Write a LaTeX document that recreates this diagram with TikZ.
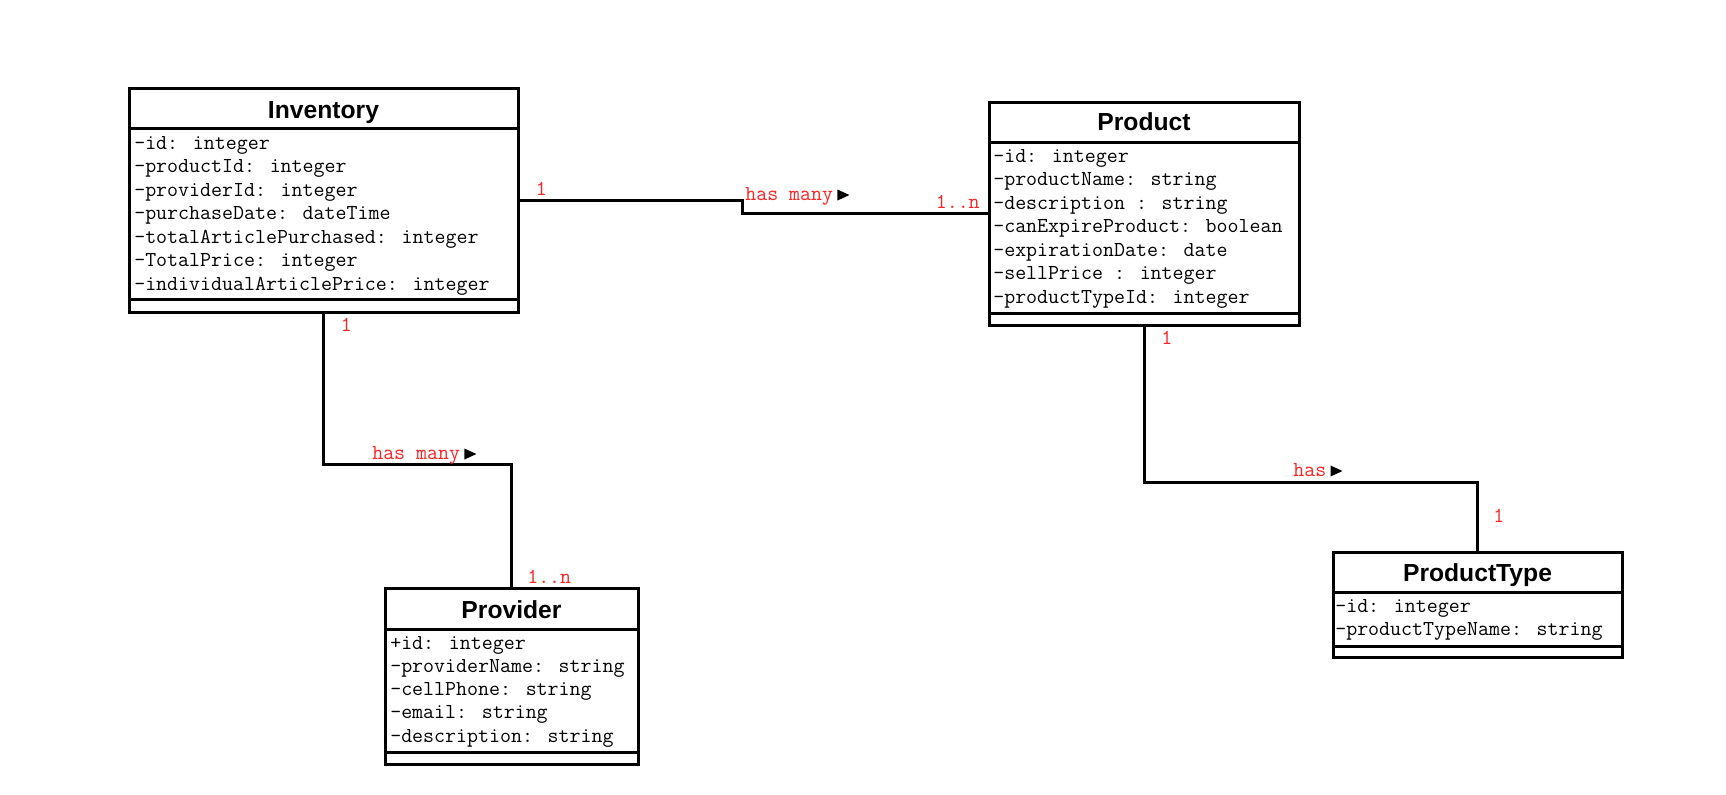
\documentclass[tikz,border=0pt]{standalone}
\usepackage{fontspec}
\setmainfont{Liberation Sans}
\usetikzlibrary{fit}
\definecolor{lblred}{RGB}{255,35,35}
\begin{document}
\begin{tikzpicture}[x=0.75pt,y=-0.75pt,
  box/.style={draw=black, line width=2.25pt, inner sep=0pt, outer sep=0pt},
  classtitle/.style={font=\fontsize{18.5}{20}\selectfont\bfseries, anchor=base, inner sep=0pt},
  attr/.style={font=\fontsize{16}{18}\selectfont\ttfamily, anchor=base west, inner sep=0pt},
  lbl/.style={font=\fontsize{16}{18}\selectfont\ttfamily, text=lblred, anchor=base west, inner sep=0pt},
  conn/.style={line width=2.25pt, line join=miter},
  divider/.style={line width=2.25pt},
  tri/.style={fill=black}]
\fill[white] (0,0) rectangle (1726,794);
\useasboundingbox (0,0) rectangle (1726,794);

% ---------- Inventory ----------
\node[box, fit={(129,88) (518,312)}] (inv) {};
\draw[divider] (inv.west |- 0,128) -- (inv.east |- 0,128);
\draw[divider] (inv.west |- 0,299) -- (inv.east |- 0,299);
\node[classtitle] (inv-t) at (inv.north |- 0,118) {Inventory};
\foreach \t [count=\i from 0] in {{-id: integer},{-productId: integer},{-providerId: integer},{-purchaseDate: dateTime},{-totalArticlePurchased: integer},{-TotalPrice: integer},{-individualArticlePrice: integer}}
  \node[attr] (inv-\i) at (134,{149+23.5*\i}) {\t};

% ---------- Product ----------
\node[box, fit={(989,102) (1299,325)}] (prod) {};
\draw[divider] (prod.west |- 0,142) -- (prod.east |- 0,142);
\draw[divider] (prod.west |- 0,313) -- (prod.east |- 0,313);
\node[classtitle] (prod-t) at (prod.north |- 0,130) {Product};
\foreach \t [count=\i from 0] in {{-id: integer},{-productName: string},{-description : string},{-canExpireProduct: boolean},{-expirationDate: date},{-sellPrice : integer},{-productTypeId: integer}}
  \node[attr] (prod-\i) at (993,{162+23.5*\i}) {\t};

% ---------- Provider ----------
\node[box, fit={(385,588) (638,764)}] (prov) {};
\draw[divider] (prov.west |- 0,629) -- (prov.east |- 0,629);
\draw[divider] (prov.west |- 0,752) -- (prov.east |- 0,752);
\node[classtitle] (prov-t) at (prov.north |- 0,618) {Provider};
\foreach \t [count=\i from 0] in {{+id: integer},{-providerName: string},{-cellPhone: string},{-email: string},{-description: string}}
  \node[attr] (prov-\i) at (390,{649+23.3*\i}) {\t};

% ---------- ProductType ----------
\node[box, fit={(1333,552) (1622,657)}] (ptype) {};
\draw[divider] (ptype.west |- 0,592) -- (ptype.east |- 0,592);
\draw[divider] (ptype.west |- 0,646) -- (ptype.east |- 0,646);
\node[classtitle] (ptype-t) at (ptype.north |- 0,581) {ProductType};
\foreach \t [count=\i from 0] in {{-id: integer},{-productTypeName: string}}
  \node[attr] (ptype-\i) at (1335,{612+23*\i}) {\t};

% ---------- Connectors ----------
\draw[conn] (inv.east) -- ++(224,0) |- (prod.west);
\draw[conn] (inv.south) -- ++(0,152) -| (prov.north);
\draw[conn] (prod.south) -- ++(0,157) -| (ptype.north);

% ---------- Labels ----------
\node[lbl] (m1) at (535.5,195) {1};
\node[lbl] (has1) at (745,200) {has many};
\node[lbl] (m2) at (935.5,208) {1..n};
\fill[tri] (has1.base east) ++(4,-10.5) -- ++(12,5.5) -- ++(-12,5.5) -- cycle;

\node[lbl] (m3) at (340.5,331) {1};
\node[lbl] (has2) at (372,459) {has many};
\node[lbl] (m4) at (527,583) {1..n};
\fill[tri] (has2.base east) ++(4,-10.5) -- ++(12,5.5) -- ++(-12,5.5) -- cycle;

\node[lbl] (m5) at (1161,344) {1};
\node[lbl] (has3) at (1293,476) {has};
\node[lbl] (m6) at (1493,522) {1};
\fill[tri] (has3.base east) ++(4,-10.5) -- ++(12,5.5) -- ++(-12,5.5) -- cycle;
\end{tikzpicture}
\end{document}
